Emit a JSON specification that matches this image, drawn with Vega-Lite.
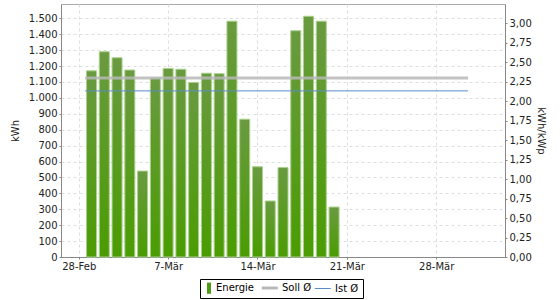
{
  "$schema": "https://vega.github.io/schema/vega-lite/v6.json",
  "width": 444,
  "height": 253,
  "autosize": {"type": "none"},
  "padding": {"left": 61, "top": 4, "right": 55, "bottom": 43},
  "background": "white",
  "datasets": {
    "energie": [
      {"date": "2021-03-01T00:00:00", "kwh": 1170},
      {"date": "2021-03-02T00:00:00", "kwh": 1290},
      {"date": "2021-03-03T00:00:00", "kwh": 1252},
      {"date": "2021-03-04T00:00:00", "kwh": 1175},
      {"date": "2021-03-05T00:00:00", "kwh": 540},
      {"date": "2021-03-06T00:00:00", "kwh": 1125},
      {"date": "2021-03-07T00:00:00", "kwh": 1185},
      {"date": "2021-03-08T00:00:00", "kwh": 1180},
      {"date": "2021-03-09T00:00:00", "kwh": 1097},
      {"date": "2021-03-10T00:00:00", "kwh": 1155},
      {"date": "2021-03-11T00:00:00", "kwh": 1152},
      {"date": "2021-03-12T00:00:00", "kwh": 1482},
      {"date": "2021-03-13T00:00:00", "kwh": 866},
      {"date": "2021-03-14T00:00:00", "kwh": 567},
      {"date": "2021-03-15T00:00:00", "kwh": 352},
      {"date": "2021-03-16T00:00:00", "kwh": 562},
      {"date": "2021-03-17T00:00:00", "kwh": 1422},
      {"date": "2021-03-18T00:00:00", "kwh": 1513},
      {"date": "2021-03-19T00:00:00", "kwh": 1482},
      {"date": "2021-03-20T00:00:00", "kwh": 314}
    ],
    "soll": [
      {"date": "2021-02-28T12:00:00", "spez": 2.30, "series": "Soll Ø"},
      {"date": "2021-03-30T12:00:00", "spez": 2.30, "series": "Soll Ø"}
    ],
    "ist": [
      {"date": "2021-02-28T12:00:00", "spez": 2.134, "series": "Ist Ø"},
      {"date": "2021-03-30T12:00:00", "spez": 2.134, "series": "Ist Ø"}
    ]
  },
  "config": {
    "font": "DejaVu Sans",
    "view": {"stroke": "#aaaaaa", "strokeWidth": 1},
    "locale": {
      "number": {"decimal": ",", "thousands": ".", "grouping": [3], "currency": ["", " €"]},
      "time": {
        "dateTime": "%A, der %e. %B %Y, %X",
        "date": "%d.%m.%Y",
        "time": "%H:%M:%S",
        "periods": ["AM", "PM"],
        "days": ["Sonntag", "Montag", "Dienstag", "Mittwoch", "Donnerstag", "Freitag", "Samstag"],
        "shortDays": ["So", "Mo", "Di", "Mi", "Do", "Fr", "Sa"],
        "months": ["Januar", "Februar", "März", "April", "Mai", "Juni", "Juli", "August", "September", "Oktober", "November", "Dezember"],
        "shortMonths": ["Jan", "Feb", "Mär", "Apr", "Mai", "Jun", "Jul", "Aug", "Sep", "Okt", "Nov", "Dez"]
      }
    },
    "axis": {
      "labelFont": "DejaVu Sans",
      "labelFontSize": 10,
      "labelColor": "#222222",
      "titleFont": "DejaVu Sans",
      "titleFontSize": 10,
      "titleFontWeight": "normal",
      "titleColor": "#222222",
      "domainColor": "#888888",
      "tickColor": "#888888",
      "tickSize": 2,
      "labelPadding": 2,
      "gridColor": "#dddddd",
      "gridDash": [3, 3]
    }
  },
  "layer": [
    {
      "data": {"name": "energie"},
      "mark": {
        "type": "bar",
        "width": 10,
        "stroke": "#a9d18c",
        "strokeWidth": 1,
        "color": {
          "gradient": "linear",
          "x1": 0, "y1": 0, "x2": 0, "y2": 1,
          "stops": [
            {"offset": 0, "color": "#6a9a40"},
            {"offset": 1, "color": "#4a9c02"}
          ]
        }
      },
      "encoding": {
        "x": {
          "field": "date",
          "type": "temporal",
          "scale": {
            "domain": [
              {"year": 2021, "month": 2, "date": 27},
              {"year": 2021, "month": 4, "date": 2}
            ]
          },
          "axis": {
            "title": null,
            "format": "%-d-%b",
            "values": [
              {"year": 2021, "month": 2, "date": 28},
              {"year": 2021, "month": 3, "date": 7},
              {"year": 2021, "month": 3, "date": 14},
              {"year": 2021, "month": 3, "date": 21},
              {"year": 2021, "month": 3, "date": 28}
            ],
            "grid": true,
            "labelFlush": false,
            "labelOverlap": false
          }
        },
        "y": {
          "field": "kwh",
          "type": "quantitative",
          "scale": {"domain": [0, 1590], "nice": false},
          "axis": {
            "title": "kWh",
            "format": ",.0f",
            "values": [0, 100, 200, 300, 400, 500, 600, 700, 800, 900, 1000, 1100, 1200, 1300, 1400, 1500],
            "grid": true,
            "labelOverlap": false,
            "titlePadding": 8
          }
        }
      }
    },
    {
      "encoding": {
        "x": {"field": "date", "type": "temporal"},
        "y": {
          "field": "spez",
          "type": "quantitative",
          "scale": {"domain": [0, 3.25], "nice": false},
          "axis": {
            "orient": "right",
            "title": "kWh/kWp",
            "format": ".2f",
            "values": [0, 0.25, 0.5, 0.75, 1, 1.25, 1.5, 1.75, 2, 2.25, 2.5, 2.75, 3],
            "tickCount": 14,
            "grid": false,
            "labelOverlap": false,
            "titlePadding": 4
          }
        },
        "color": {
          "field": "series",
          "type": "nominal",
          "scale": {
            "domain": ["Energie", "Soll Ø", "Ist Ø"],
            "range": ["#4f9a14", "#b8b8b8", "#5b8cc8"]
          },
          "legend": {
            "title": null,
            "orient": "none",
            "direction": "horizontal",
            "legendX": 139,
            "legendY": 275,
            "strokeColor": "#000000",
            "fillColor": "#ffffff",
            "padding": 4,
            "labelFont": "DejaVu Sans",
            "labelFontSize": 10,
            "labelColor": "#000000",
            "symbolSize": 64,
            "symbolStrokeWidth": 0,
            "columnPadding": 0,
            "labelOffset": 2,
            "encode": {
              "symbols": {
                "update": {
                  "shape": {"signal": "datum.value === 'Energie' ? 'M-0.5,-1.4H0.5V1.4H-0.5Z' : 'M-3.3,0H0.7'"},
                  "fill": {"signal": "datum.value === 'Energie' ? '#4f9a14' : 'transparent'"},
                  "stroke": {"signal": "datum.value === 'Energie' ? '#4f9a14' : datum.value === 'Soll Ø' ? '#b8b8b8' : '#5b8cc8'"},
                  "strokeWidth": {"signal": "datum.value === 'Energie' ? 0 : datum.value === 'Soll Ø' ? 3 : 1"},
                  "opacity": {"value": 1}
                }
              }
            }
          }
        }
      },
      "layer": [
        {
          "data": {"name": "soll"},
          "mark": {"type": "line", "strokeWidth": 3, "opacity": 0.85}
        },
        {
          "data": {"name": "ist"},
          "mark": {"type": "line", "strokeWidth": 1}
        }
      ]
    }
  ],
  "resolve": {"scale": {"y": "independent"}}
}
